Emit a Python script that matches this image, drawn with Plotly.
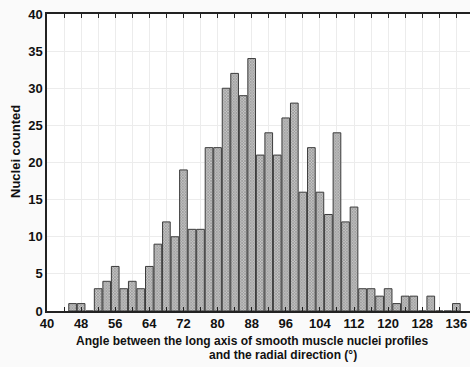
import plotly.graph_objects as go

# Bin centres (degrees, 2-degree bins) and counts
angles = [46, 48, 50, 52, 54, 56, 58, 60, 62, 64, 66, 68, 70, 72, 74, 76, 78, 80,
          82, 84, 86, 88, 90, 92, 94, 96, 98, 100, 102, 104, 106, 108, 110, 112,
          114, 116, 118, 120, 122, 124, 126, 128, 130, 132, 134, 136]
counts = [1, 1, 0, 3, 4, 6, 3, 4, 3, 6, 9, 12, 10, 19, 11, 11, 22, 22,
          30, 32, 29, 34, 21, 24, 21, 26, 28, 16, 22, 16, 13, 24, 12, 14,
          3, 3, 2, 3, 1, 2, 2, 0, 2, 0, 0, 1]

x_tickvals = list(range(40, 140, 4))
x_ticktext = [str(v) if v % 8 == 0 else "" for v in x_tickvals]
y_tickvals = [0, 5, 10, 15, 20, 25, 30, 35, 40]

FONT = "Liberation Sans, Arial, sans-serif"

fig = go.Figure(go.Bar(
    x=angles, y=counts, width=1.8,
    marker=dict(
        color="#b4b4b4",
        line=dict(color="#3c3c3c", width=1),
        pattern=dict(shape="x", size=2, solidity=0.5,
                     fgcolor="#8a8a8a", bgcolor="#c6c6c6", fillmode="replace"),
    ),
))

fig.update_layout(
    width=470, height=367,
    margin=dict(l=47, r=0, t=14, b=56),
    paper_bgcolor="#fafafa", plot_bgcolor="white",
    showlegend=False,
    font=dict(family=FONT, size=13, color="#111"),
    xaxis=dict(
        range=[40, 139.2], tickmode="array", tickvals=x_tickvals, ticktext=x_ticktext,
        ticks="inside", ticklen=4, tickcolor="#222", tickwidth=1,
        showline=True, linecolor="#222", linewidth=1.5, mirror="ticks",
        showgrid=True, gridcolor="#ececec", gridwidth=1, zeroline=False,
        tickfont=dict(family=FONT, size=13, color="#111", weight="bold"),
    ),
    yaxis=dict(
        range=[0, 40], tickmode="array", tickvals=y_tickvals,
        ticks="", showline=True, linecolor="#222", linewidth=1.5,
        showgrid=True, gridcolor="#ececec", gridwidth=1, zeroline=False,
        tickfont=dict(family=FONT, size=13, color="#111", weight="bold"),
    ),
    annotations=[
        dict(text="<b>Nuclei counted</b>", xref="paper", yref="paper",
             x=(15 - 47) / 423, y=(311 - 152) / 297, xanchor="center", yanchor="middle",
             textangle=-90, showarrow=False, font=dict(family=FONT, size=13, color="#111")),
        dict(text="<b>Angle between the long axis of smooth muscle nuclei profiles</b>",
             xref="paper", yref="paper", x=(252 - 47) / 423, y=0, yshift=-30,
             xanchor="center", yanchor="middle", showarrow=False,
             font=dict(family=FONT, size=12, color="#111")),
        dict(text="<b>and the radial direction (°)</b>",
             xref="paper", yref="paper", x=(283 - 47) / 423, y=0, yshift=-44,
             xanchor="center", yanchor="middle", showarrow=False,
             font=dict(family=FONT, size=12, color="#111")),
    ],
)

fig.write_html("out.html")
